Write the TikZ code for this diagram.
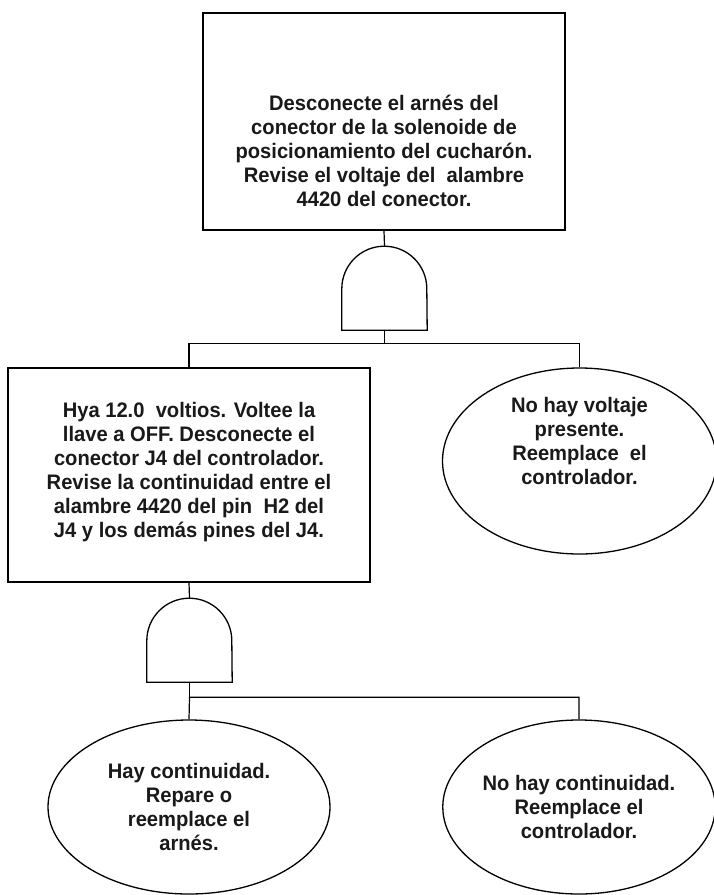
\documentclass[tikz,border=0pt]{standalone}
\usepackage{fontspec}
\newfontfamily\notefont[FakeStretch=0.96]{Liberation Sans}
\usepackage{tikz}
\usetikzlibrary{shapes.geometric, positioning}

% AND gate outline drawn on an empty node
\newcommand{\andshape}[1]{%
  \draw[line] (#1.south west) -- ([yshift=41.5pt]#1.south west)
    arc[start angle=180, end angle=0, radius=42.5pt] -- (#1.south east) -- cycle;}

\begin{document}
\begin{tikzpicture}[
    x=1pt, y=-1pt,
    line/.style={draw=black, line width=1.3pt},
    conn/.style={draw=black, line width=1.2pt},
    txt/.style={align=center, font=\notefont\bfseries\fontsize{21}{24}\selectfont,
                text=black!90},
    box/.style={rectangle, line, txt, minimum width=362pt, minimum height=#1,
                inner sep=0pt},
    box/.default={215pt},
    event/.style={ellipse, line, txt, minimum width=#1, inner sep=0pt},
    gate/.style={rectangle, minimum width=85pt, minimum height=84pt, inner sep=0pt}
]
\useasboundingbox (0,0) rectangle (713,895);

% --- top event ---
\node[box=217pt] (top) at (384,121.5)
    {\\[50pt]Desconecte el arnés del\\conector de la solenoide de\\
     posicionamiento del cucharón.\\Revise el voltaje del\ \ alambre\\4420 del conector.};
\node[gate] (g1) at (384.5,288) {};
\andshape{g1}

% --- first level ---
\node[box=214pt] (check) at (189,475)
    {Hya 12.0\ \ voltios. Voltee la\\llave a OFF. Desconecte el\\
     conector J4 del controlador.\\Revise la continuidad entre el\\
     alambre 4420 del pin\ \ H2 del\\J4 y los demás pines del J4.\\[-14pt]\mbox{}};
\node[event=274pt, minimum height=186pt] (novolt) at (579.5,461)
    {No hay voltaje\\presente.\\Reemplace\ \ el\\controlador.\\[16pt]\mbox{}};
\node[gate] (g2) at (189.5,640) {};
\andshape{g2}

% --- second level ---
\node[event=282pt, minimum height=174pt] (cont) at (189,807)
    {Hay continuidad.\\Repare o\\reemplace el\\arnés.};
\node[event=272pt, minimum height=174pt] (nocont) at (579,807)
    {No hay continuidad.\\Reemplace el\\controlador.};

% --- connectors ---
\draw[conn] (top.south) -- (g1.north);
\draw[conn] (g1.south) -- ++(0,13) coordinate (b1);
\draw[conn] (check.north) |- (b1) -| (novolt.north);
\draw[conn] (check.south) -- (g2.north);
\draw[conn] (g2.south) -- ++(0,15) coordinate (b2);
\draw[conn] (cont.north) -- (b2) -| (nocont.north);

\end{tikzpicture}
\end{document}
